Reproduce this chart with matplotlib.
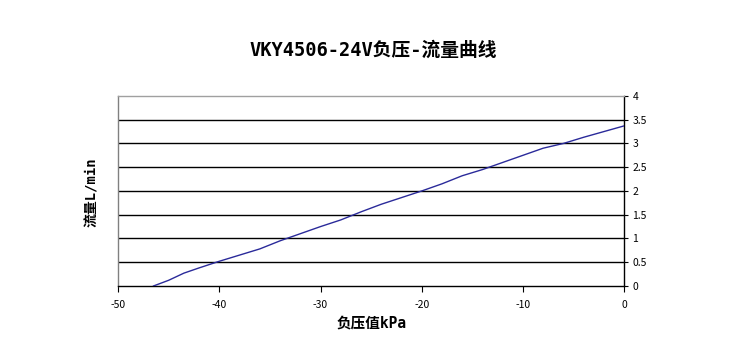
import numpy as np
import matplotlib.pyplot as plt

plt.rcParams['font.family'] = ['Noto Sans CJK SC', 'DejaVu Sans']
MONO = ['DejaVu Sans Mono', 'Noto Sans CJK SC']

# negative pressure (kPa) vs flow (L/min)
pressure = [-46.5, -45, -43.5, -42, -40, -38, -36, -34, -32, -30, -28, -26, -24,
            -22, -20, -18, -16, -14, -12, -10, -8, -6, -4, -2, 0]
flow = [0.0, 0.12, 0.27, 0.38, 0.52, 0.65, 0.78, 0.95, 1.10, 1.25, 1.39, 1.56, 1.72,
        1.86, 2.00, 2.15, 2.32, 2.45, 2.60, 2.75, 2.90, 3.00, 3.13, 3.25, 3.37]

x_ticks = [-50, -40, -30, -20, -10, 0]
y_ticks = [0, 0.5, 1, 1.5, 2, 2.5, 3, 3.5, 4]
y_labels = ["0", "0.5", "1", "1.5", "2", "2.5", "3", "3.5", "4"]

fig = plt.figure(figsize=(7.52, 3.62), dpi=100)
ax = fig.add_axes([0.157, 0.21, 0.673, 0.525])

for v in y_ticks[1:-1]:
    ax.axhline(v, color="black", lw=1.0, zorder=1)
ax.plot(pressure, flow, color="#2a2a9a", lw=1.0, zorder=3)

ax.set_xlim(-50, 0)
ax.set_ylim(0, 4)
ax.set_xticks(x_ticks)
ax.set_xticklabels([str(t) for t in x_ticks], fontsize=7.5)
ax.yaxis.tick_right()
ax.set_yticks(y_ticks)
ax.set_yticklabels(y_labels, fontsize=7.5)
ax.tick_params(axis="x", direction="out", length=4, width=0.8, pad=6)
ax.tick_params(axis="y", direction="out", length=3, width=0.8, pad=3)

ax.spines["left"].set_color("#808080")
ax.spines["top"].set_color("#a0a0a0")
ax.spines["bottom"].set_color("black")
ax.spines["right"].set_color("black")
for s in ax.spines.values():
    s.set_linewidth(1.0)

ax.set_xlabel("负压值kPa", fontsize=10.5, fontweight="bold", labelpad=4, family=MONO)
fig.text(0.123, 0.47, "流量L/min", rotation=90, fontsize=10, fontweight="bold",
         ha="center", va="center", family=MONO)
fig.text(0.496, 0.862, "VKY4506-24V负压-流量曲线", fontsize=13.5, fontweight="bold",
         ha="center", va="center", family=MONO)

plt.savefig("out.png", dpi=100)
